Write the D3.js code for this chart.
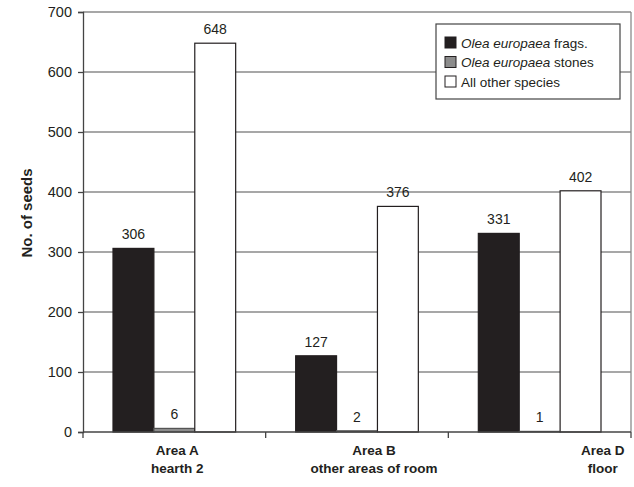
<!DOCTYPE html>
<html>
<head>
<meta charset="utf-8">
<script src="https://cdn.jsdelivr.net/npm/d3@7/dist/d3.min.js"></script>
<style>
  html, body { margin: 0; padding: 0; background: #fff; }
  svg { display: block; font-family: "Liberation Sans", Arial, sans-serif; }
</style>
</head>
<body>
<svg id="chart" width="634" height="487"></svg>
<script>
// Seed counts by area
const areas = ["Area A", "Area B", "Area D"];
const areaSubtitles = ["hearth 2", "other areas of room", "floor"];
const seriesNames = ["frags", "stones", "other"];
const fragsValues = [306, 127, 331];
const stonesValues = [6, 2, 1];
const otherValues = [648, 376, 402];
const yTicks = [0, 100, 200, 300, 400, 500, 600, 700];

const seriesValues = [fragsValues, stonesValues, otherValues];
const fills = { frags: "#231f20", stones: "#8c8c8c", other: "#ffffff" };

const svg = d3.select("#chart");
const plot = { left: 83, right: 631, top: 12, bottom: 432 };

const x0 = d3.scaleBand().domain(areas).range([plot.left, plot.right]).padding(0);
const bw = x0.bandwidth();
const x1 = d3.scaleBand().domain(seriesNames).range([30, bw - 30]).padding(0);
const y = d3.scaleLinear().domain([0, 700]).range([plot.bottom, plot.top]);

// horizontal gridlines
svg.append("g")
  .selectAll("line")
  .data(yTicks.filter(d => d > 0))
  .join("line")
  .attr("x1", plot.left).attr("x2", plot.right)
  .attr("y1", d => y(d)).attr("y2", d => y(d))
  .attr("stroke", "#8a8a8a").attr("stroke-width", 1.3);

// right edge of the plot area
svg.append("line")
  .attr("x1", plot.right).attr("x2", plot.right)
  .attr("y1", plot.top).attr("y2", plot.bottom)
  .attr("stroke", "#8a8a8a").attr("stroke-width", 1.3);

// bars
const rows = [];
areas.forEach((a, i) => {
  seriesNames.forEach((s, j) => rows.push({ area: a, series: s, value: seriesValues[j][i] }));
});

const bars = svg.append("g");
bars.selectAll("rect")
  .data(rows)
  .join("rect")
  .attr("x", d => x0(d.area) + x1(d.series))
  .attr("width", x1.bandwidth())
  .attr("y", d => y(d.value))
  .attr("height", d => y(0) - y(d.value))
  .attr("fill", d => fills[d.series])
  .attr("stroke", d => d.series === "stones" ? "#555" : "#231f20")
  .attr("stroke-width", 1.2);

// value labels
svg.append("g")
  .selectAll("text")
  .data(rows)
  .join("text")
  .attr("x", d => x0(d.area) + x1(d.series) + x1.bandwidth() / 2)
  .attr("y", d => y(d.value) - 9)
  .attr("text-anchor", "middle")
  .attr("font-size", 14)
  .attr("fill", "#231f20")
  .text(d => d.value);

// y axis
const yAxis = d3.axisLeft(y).tickValues(yTicks).tickSize(5).tickPadding(6);
const yg = svg.append("g").attr("transform", `translate(${plot.left},0)`).call(yAxis);
yg.select(".domain").attr("stroke", "#444").attr("stroke-width", 1.3);
yg.selectAll(".tick line").attr("stroke", "#444").attr("stroke-width", 1.3);
yg.selectAll(".tick text").attr("font-size", 14.5).attr("fill", "#231f20")
  .attr("font-family", "'Liberation Sans', Arial, sans-serif");

// x axis with boundary ticks between areas
const xg = svg.append("g");
xg.append("line")
  .attr("x1", plot.left).attr("x2", plot.right)
  .attr("y1", plot.bottom).attr("y2", plot.bottom)
  .attr("stroke", "#444").attr("stroke-width", 1.3);
const bounds = areas.map(a => x0(a)).concat([x0(areas[areas.length - 1]) + bw]);
xg.selectAll("line.tk")
  .data(bounds)
  .join("line")
  .attr("class", "tk")
  .attr("x1", d => d).attr("x2", d => d)
  .attr("y1", plot.bottom).attr("y2", plot.bottom + 6)
  .attr("stroke", "#444").attr("stroke-width", 1.3);

// category labels (two lines, bold)
const labelShift = [3, 17, 63];
const cat = xg.selectAll("text.cat")
  .data(areas)
  .join("text")
  .attr("class", "cat")
  .attr("text-anchor", "middle")
  .attr("font-size", 13.5)
  .attr("font-weight", "bold")
  .attr("fill", "#231f20");
cat.append("tspan")
  .attr("x", (d, i) => x0(d) + bw / 2 + labelShift[i])
  .attr("y", 455)
  .text(d => d);
cat.append("tspan")
  .attr("x", (d, i) => x0(d) + bw / 2 + labelShift[i])
  .attr("y", 473)
  .text((d, i) => areaSubtitles[i]);

// y axis title
svg.append("text")
  .attr("transform", "translate(32,213) rotate(-90)")
  .attr("text-anchor", "middle")
  .attr("font-size", 15)
  .attr("font-weight", "bold")
  .attr("fill", "#231f20")
  .text("No. of seeds");

// legend
const legend = svg.append("g");
legend.append("rect")
  .attr("x", 436).attr("y", 24).attr("width", 184).attr("height", 75)
  .attr("fill", "#fff").attr("stroke", "#444").attr("stroke-width", 1.2);
const legendItems = [
  { key: "frags", italic: "Olea europaea", plain: " frags." },
  { key: "stones", italic: "Olea europaea", plain: " stones" },
  { key: "other", italic: "", plain: "All other species" }
];
const li = legend.selectAll("g.item")
  .data(legendItems)
  .join("g")
  .attr("class", "item")
  .attr("transform", (d, i) => `translate(445,${37 + i * 19.5})`);
li.append("rect")
  .attr("width", 11).attr("height", 11)
  .attr("fill", d => fills[d.key])
  .attr("stroke", "#231f20").attr("stroke-width", 1);
const lt = li.append("text")
  .attr("x", 16).attr("y", 10.5)
  .attr("font-size", 13.5)
  .attr("fill", "#231f20");
lt.append("tspan").attr("font-style", "italic").text(d => d.italic);
lt.append("tspan").text(d => d.plain);
</script>
</body>
</html>
